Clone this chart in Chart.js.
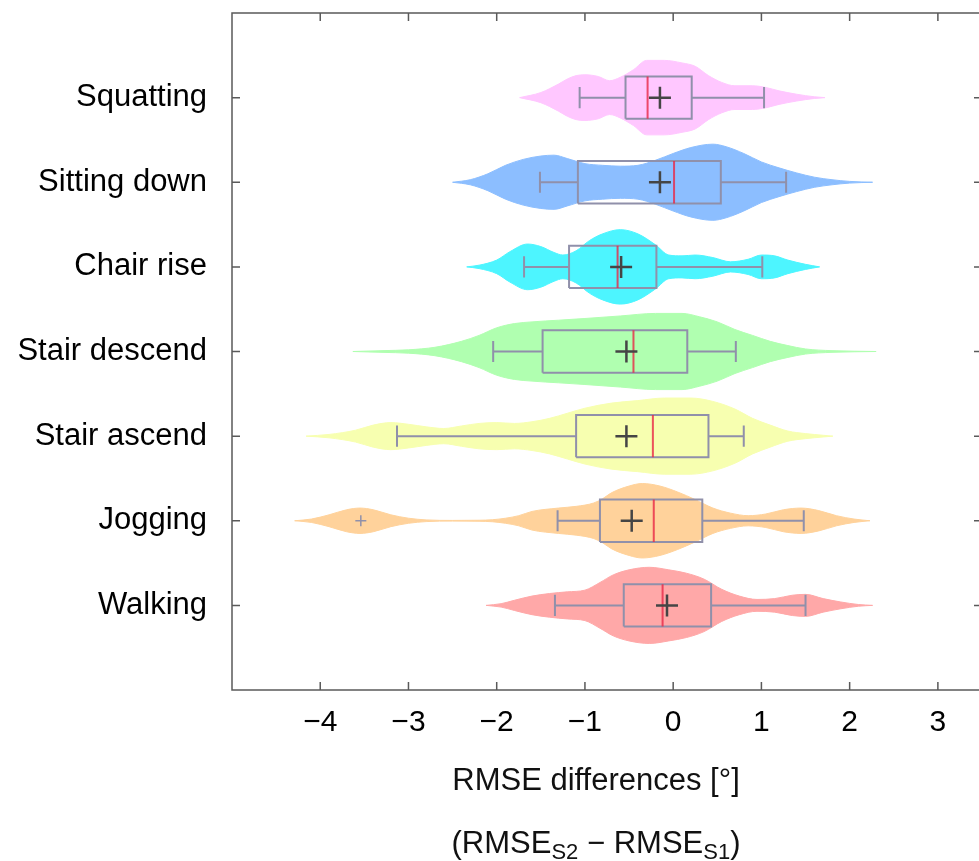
<!DOCTYPE html>
<html><head><meta charset="utf-8">
<script src="https://cdn.jsdelivr.net/npm/chart.js@4.4.0/dist/chart.umd.min.js"></script>
<style>
html,body{margin:0;padding:0;overflow:hidden;background:#fff;width:979px;height:861px}
#wrap{position:relative;width:986px;height:861px}
</style></head>
<body><div id="wrap"><canvas id="c" width="986" height="861"></canvas></div>
<script>
// ---------- data ----------
const categories = ['Walking','Jogging','Stair ascend','Stair descend','Chair rise','Sitting down','Squatting'];
const xTickValues = [-4,-3,-2,-1,0,1,2,3];

// violin outlines: x positions and half-widths (fraction of category spacing)
const walkingX = [-2.12,-1.95,-1.8,-1.6,-1.4,-1.2,-1.0,-0.83,-0.68,-0.5,-0.27,-0.05,0.15,0.35,0.55,0.75,0.95,1.15,1.35,1.5,1.7,1.9,2.1,2.26];
const walkingW = [0,0.02,0.06,0.11,0.14,0.16,0.18,0.27,0.36,0.42,0.45,0.42,0.38,0.31,0.19,0.11,0.07,0.08,0.12,0.13,0.08,0.04,0.01,0];
const joggingX = [-4.29,-4.1,-3.9,-3.7,-3.55,-3.4,-3.2,-3.0,-2.8,-2.5,-2.2,-2.05,-1.9,-1.75,-1.6,-1.3,-1.1,-0.9,-0.8,-0.7,-0.5,-0.35,-0.15,0.05,0.25,0.45,0.65,0.85,1.05,1.25,1.45,1.65,1.85,2.05,2.23];
const joggingW = [0,0.02,0.07,0.13,0.15,0.13,0.07,0.03,0.01,0.004,0.006,0.012,0.03,0.06,0.11,0.15,0.17,0.21,0.26,0.33,0.41,0.44,0.41,0.34,0.25,0.15,0.09,0.06,0.08,0.13,0.15,0.12,0.06,0.02,0];
const stairAscX = [-4.16,-3.9,-3.6,-3.4,-3.2,-3.0,-2.8,-2.6,-2.4,-2.2,-2.0,-1.8,-1.6,-1.4,-1.2,-1.0,-0.7,-0.4,-0.1,0.2,0.45,0.7,0.9,1.1,1.3,1.5,1.7,1.81];
const stairAscW = [0,0.02,0.07,0.13,0.16,0.14,0.11,0.09,0.12,0.15,0.16,0.15,0.17,0.21,0.27,0.33,0.39,0.42,0.45,0.45,0.41,0.32,0.21,0.13,0.06,0.03,0.01,0];
const stairDescX = [-3.63,-3.3,-3.0,-2.7,-2.4,-2.2,-2.0,-1.8,-1.6,-1.3,-1.0,-0.6,-0.2,0.1,0.3,0.5,0.7,0.9,1.1,1.3,1.5,1.8,2.3];
const stairDescW = [0,0.01,0.02,0.05,0.12,0.19,0.28,0.33,0.35,0.37,0.39,0.42,0.45,0.45,0.41,0.35,0.26,0.19,0.12,0.07,0.03,0.01,0];
const chairRiseX = [-2.34,-2.2,-2.0,-1.85,-1.65,-1.5,-1.35,-1.25,-1.1,-0.95,-0.8,-0.6,-0.4,-0.2,-0.05,0.1,0.25,0.45,0.65,0.85,1.0,1.15,1.3,1.5,1.66];
const chairRiseW = [0,0.02,0.08,0.18,0.27,0.24,0.17,0.14,0.19,0.31,0.39,0.44,0.39,0.26,0.14,0.13,0.14,0.11,0.06,0.09,0.14,0.13,0.08,0.03,0];
const sittingX = [-2.5,-2.3,-2.1,-1.9,-1.7,-1.5,-1.35,-1.2,-1.0,-0.8,-0.6,-0.4,-0.2,0.0,0.2,0.45,0.6,0.8,1.0,1.2,1.4,1.6,1.8,2.0,2.26];
const sittingW = [0,0.03,0.1,0.2,0.27,0.31,0.32,0.28,0.22,0.2,0.19,0.2,0.26,0.34,0.41,0.45,0.42,0.34,0.24,0.17,0.11,0.06,0.03,0.01,0];
const squattingX = [-1.74,-1.5,-1.3,-1.2,-1.1,-1.0,-0.85,-0.72,-0.6,-0.45,-0.3,-0.1,0.1,0.25,0.4,0.55,0.7,0.9,1.05,1.2,1.4,1.6,1.72];
const squattingW = [0,0.06,0.16,0.22,0.26,0.27,0.25,0.2,0.24,0.33,0.44,0.44,0.41,0.37,0.26,0.18,0.14,0.14,0.12,0.08,0.04,0.01,0];

// box-plot statistics, in category order
const q1Values      = [-0.56,-0.83,-1.10,-1.48,-1.18,-1.08,-0.54];
const medianValues  = [-0.12,-0.22,-0.23,-0.45,-0.63, 0.01,-0.29];
const q3Values      = [ 0.43, 0.33, 0.40, 0.16,-0.19, 0.54, 0.21];
const meanValues    = [-0.07,-0.47,-0.53,-0.53,-0.59,-0.15,-0.15];
const whiskerLow    = [-1.34,-1.31,-3.13,-2.04,-1.69,-1.51,-1.06];
const whiskerHigh   = [ 1.50, 1.48, 0.80, 0.71, 1.01, 1.28, 1.03];
const outlierValues = [-3.54];
const outlierCategory = ['Jogging'];

// ---------- styles ----------
const violinColors = ['#FFA8A8','#FFD29B','#F7FFB0','#B0FFB0','#4DF5FF','#8CBEFF','#FFC7FF'];
const BOX_HALF = 0.25, CAP_HALF = 0.125;
const BOX_COLOR = '#9090AA';
const FONT = "'Liberation Sans', Arial, Helvetica, sans-serif";

const violins = [[walkingX,walkingW],[joggingX,joggingW],[stairAscX,stairAscW],[stairDescX,stairDescW],[chairRiseX,chairRiseW],[sittingX,sittingW],[squattingX,squattingW]];

const datasets = [];
violins.forEach(([xs, ws], i) => {
  const c = i + 1, col = violinColors[i];
  datasets.push({ data: xs.map((x,k)=>({x, y: c + ws[k]})), borderColor: col, borderWidth: 1,
    pointRadius: 0, fill: false, cubicInterpolationMode: 'monotone', order: 20 });
  datasets.push({ data: xs.map((x,k)=>({x, y: c - ws[k]})), borderColor: col, borderWidth: 1,
    backgroundColor: col, pointRadius: 0, fill: '-1', cubicInterpolationMode: 'monotone', order: 20 });
});

const boxPts = [], whiskPts = [], medPts = [], meanPts = [];
categories.forEach((name, i) => {
  const c = i + 1;
  const a = q1Values[i], b = q3Values[i];
  boxPts.push({x:a,y:c-BOX_HALF},{x:b,y:c-BOX_HALF},{x:b,y:c+BOX_HALF},{x:a,y:c+BOX_HALF},{x:a,y:c-BOX_HALF},{x:a,y:null});
  const wl = whiskerLow[i], wh = whiskerHigh[i];
  whiskPts.push({x:wl,y:c-CAP_HALF},{x:wl,y:c+CAP_HALF},{x:wl,y:null},
                {x:wl,y:c},{x:a,y:c},{x:a,y:null},
                {x:b,y:c},{x:wh,y:c},{x:wh,y:null},
                {x:wh,y:c-CAP_HALF},{x:wh,y:c+CAP_HALF},{x:wh,y:null});
  medPts.push({x:medianValues[i],y:c-BOX_HALF},{x:medianValues[i],y:c+BOX_HALF},{x:medianValues[i],y:null});
  meanPts.push({x:meanValues[i],y:c});
});
const outPts = outlierValues.map((v,k)=>({x:v, y: categories.indexOf(outlierCategory[k]) + 1}));

datasets.push({ data: whiskPts, borderColor: BOX_COLOR, borderWidth: 2, pointRadius: 0, fill: false, spanGaps: false, order: 6 });
datasets.push({ data: boxPts, borderColor: BOX_COLOR, borderWidth: 2, pointRadius: 0, fill: false, spanGaps: false, order: 5 });
datasets.push({ data: medPts, borderColor: 'rgba(232,40,70,0.8)', borderWidth: 2, pointRadius: 0, fill: false, spanGaps: false, order: 4 });
datasets.push({ data: meanPts, showLine: false, pointStyle: 'cross', pointRadius: 11, pointBorderWidth: 2.5,
  pointBorderColor: '#454545', order: 1 });
datasets.push({ data: outPts, showLine: false, pointStyle: 'cross', pointRadius: 5.5, pointBorderWidth: 1.5,
  pointBorderColor: BOX_COLOR, order: 2 });

const framePlugin = {
  id: 'frame',
  afterDatasetsDraw(chart) {
    const {ctx, chartArea: a, scales: {x, y}} = chart;
    ctx.save();
    ctx.strokeStyle = '#5a5a5a'; ctx.lineWidth = 1.5;
    ctx.strokeRect(a.left, a.top, a.right - a.left, a.bottom - a.top);
    ctx.beginPath();
    xTickValues.forEach(v => {
      const px = x.getPixelForValue(v);
      ctx.moveTo(px, a.bottom); ctx.lineTo(px, a.bottom - 8);
      ctx.moveTo(px, a.top); ctx.lineTo(px, a.top + 8);
    });
    categories.forEach((n, i) => {
      const py = y.getPixelForValue(i + 1);
      ctx.moveTo(a.left, py); ctx.lineTo(a.left + 8, py);
      ctx.moveTo(a.right, py); ctx.lineTo(a.right - 8, py);
    });
    ctx.stroke();
    ctx.restore();
  }
};

const titlePlugin = {
  id: 'xtitle',
  afterDraw(chart) {
    const ctx = chart.ctx, cx = 596;
    ctx.save();
    ctx.fillStyle = '#111';
    ctx.textBaseline = 'alphabetic';
    ctx.font = `31px ${FONT}`;
    ctx.textAlign = 'center';
    ctx.fillText('RMSE differences [°]', cx, 790);
    const segs = [['(RMSE',0],['S2',1],[' \u2212 RMSE',0],['S1',1],[')',0]];
    const big = `31px ${FONT}`, small = `22px ${FONT}`;
    let total = 0;
    segs.forEach(([t,s]) => { ctx.font = s ? small : big; total += ctx.measureText(t).width; });
    let xx = cx - total / 2;
    ctx.textAlign = 'left';
    segs.forEach(([t,s]) => {
      ctx.font = s ? small : big;
      ctx.fillText(t, xx, s ? 859 : 853);
      xx += ctx.measureText(t).width;
    });
    ctx.restore();
  }
};

const zeroPad = s => { s.paddingTop = 0; s.paddingBottom = 0; s.paddingLeft = 0; s.paddingRight = 0; };

new Chart(document.getElementById('c'), {
  type: 'line',
  data: { datasets },
  options: {
    responsive: false, animation: false, devicePixelRatio: 1,
    layout: { autoPadding: false, padding: { top: 13, right: 4, left: 0, bottom: 0 } },
    plugins: { legend: { display: false }, tooltip: { enabled: false } },
    elements: { line: { tension: 0 } },
    scales: {
      x: {
        type: 'linear', min: -5, max: 3.5, position: 'bottom',
        grid: { display: false, drawTicks: false }, border: { display: false },
        afterFit: s => { s.height = 171; zeroPad(s); },
        ticks: {
          stepSize: 1, includeBounds: false, autoSkip: false, maxRotation: 0, padding: 15,
          color: '#000', font: { family: FONT, size: 30 },
          callback: v => xTickValues.includes(v) ? (v < 0 ? '\u2212' + Math.abs(v) : String(v)) : ''
        }
      },
      y: {
        type: 'linear', min: 0, max: 8,
        grid: { display: false, drawTicks: false }, border: { display: false },
        afterFit: s => { s.width = 232; zeroPad(s); },
        ticks: {
          stepSize: 1, includeBounds: false, autoSkip: false, padding: 25,
          color: '#000', font: { family: FONT, size: 31 },
          callback: v => categories[v - 1] || ''
        }
      }
    }
  },
  plugins: [framePlugin, titlePlugin]
});
</script>
</body></html>
